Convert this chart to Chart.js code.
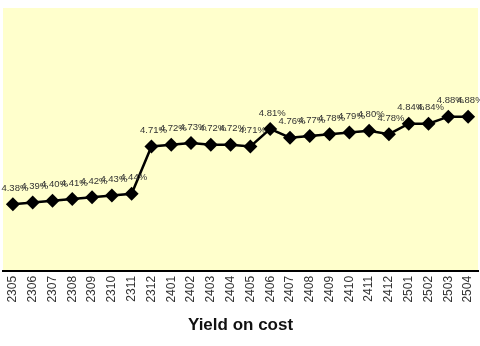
<!DOCTYPE html>
<html>
<head>
<meta charset="utf-8">
<script src="https://cdn.jsdelivr.net/npm/chart.js@4/dist/chart.umd.min.js"></script>
<style>
  html, body { margin: 0; padding: 0; background: #fff; }
  #wrap { width: 480px; height: 346px; }
</style>
</head>
<body>
<div id="wrap"><canvas id="chart" width="480" height="346"></canvas></div>
<script>
const months = ['2305', '2306', '2307', '2308', '2309', '2310', '2311', '2312',
    '2401', '2402', '2403', '2404', '2405', '2406', '2407', '2408', '2409',
    '2410', '2411', '2412', '2501', '2502', '2503', '2504'];
const yieldOnCost = [4.38, 4.39, 4.40, 4.41, 4.42, 4.43, 4.44, 4.71,
    4.72, 4.73, 4.72, 4.72, 4.71, 4.81, 4.76, 4.77, 4.78,
    4.79, 4.80, 4.78, 4.84, 4.84, 4.88, 4.88];
const chartTitle = 'Yield on cost';

// yellow plot background
const plotBg = {
    id: 'plotBg',
    beforeDraw(chart) {
        const a = chart.chartArea;
        const c = chart.ctx;
        c.save();
        c.fillStyle = '#ffffcc';
        c.fillRect(a.left, a.top, a.right - a.left, a.bottom - a.top);
        c.restore();
    }
};

// value labels above each point
const valueLabels = {
    id: 'valueLabels',
    afterDatasetsDraw(chart) {
        const c = chart.ctx;
        const meta = chart.getDatasetMeta(0);
        c.save();
        c.font = '9.5px "Liberation Sans", Arial, sans-serif';
        c.fillStyle = '#333';
        c.textAlign = 'center';
        c.textBaseline = 'middle';
        meta.data.forEach((pt, i) => {
            c.fillText(yieldOnCost[i].toFixed(2) + '%', pt.x + 2, pt.y - 16);
        });
        c.restore();
    }
};

var ctx = document.getElementById('chart').getContext('2d');
var mychart = new Chart(ctx, {
    type: 'line',
    data: {
        labels: months,
        datasets: [{
            label: chartTitle,
            data: yieldOnCost,
            borderColor: '#000',
            backgroundColor: '#000',
            borderWidth: 2.5,
            pointStyle: 'rectRot',
            pointRadius: 7,
            pointBorderWidth: 0,
            fill: false,
            tension: 0
        }]
    },
    options: {
        responsive: false,
        animation: false,
        layout: { autoPadding: false, padding: { left: 3, right: 2, top: 8, bottom: 10 } },
        plugins: {
            legend: { display: false },
            tooltip: { enabled: false },
            title: {
                display: true,
                text: chartTitle,
                position: 'bottom',
                color: '#111',
                font: { family: '"Liberation Sans", Arial, sans-serif', size: 17, weight: 'bold' },
                padding: { top: 8, bottom: 0 }
            }
        },
        scales: {
            x: {
                offset: true,
                grid: { display: false, drawTicks: false },
                border: { display: true, color: '#000', width: 2 },
                afterFit(scale) {
                    scale.paddingLeft = 0;
                    scale.paddingRight = 0;
                },
                ticks: {
                    minRotation: 90,
                    maxRotation: 90,
                    autoSkip: false,
                    padding: 5,
                    color: '#333',
                    font: { family: '"Liberation Sans", Arial, sans-serif', size: 12 }
                }
            },
            y: {
                display: false,
                min: 4.0,
                max: 5.5
            }
        }
    },
    plugins: [plotBg, valueLabels]
});
</script>
</body>
</html>
